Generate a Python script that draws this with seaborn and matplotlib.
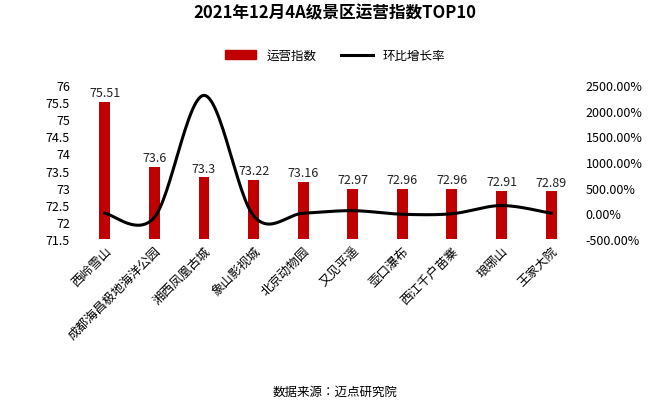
import matplotlib
matplotlib.use("Agg")
import matplotlib.pyplot as plt
from matplotlib import font_manager
import seaborn as sns
import numpy as np
import pandas as pd

names = {f.name for f in font_manager.fontManager.ttflist}
cjk = [n for n in ["Noto Sans CJK SC", "Noto Sans CJK JP", "Noto Sans CJK TC", "Noto Sans CJK KR",
                   "Noto Sans SC", "Noto Sans CJK"] if n in names]
plt.rcParams["font.family"] = "sans-serif"
plt.rcParams["font.sans-serif"] = cjk + ["DejaVu Sans"]

categories = ["西岭雪山", "成都海昌极地海洋公园", "湘西凤凰古城", "象山影视城", "北京动物园",
              "又见平遥", "壶口瀑布", "西江千户苗寨", "琅琊山", "王家大院"]
index_values = [75.51, 73.6, 73.3, 73.22, 73.16, 72.97, 72.96, 72.96, 72.91, 72.89]
growth_pct = [0, -80, 2300, -50, 0, 50, -20, -10, 150, 0]
left_ticks = [71.5, 72, 72.5, 73, 73.5, 74, 74.5, 75, 75.5, 76]
right_ticks = [-500, 0, 500, 1000, 1500, 2000, 2500]

df = pd.DataFrame({"cat": categories, "val": index_values})
fig = plt.figure(figsize=(6.7, 4.1), dpi=100)
ax = fig.add_axes([0.112, 0.415, 0.755, 0.375])
sns.barplot(data=df, x="cat", y="val", color="#C00000", width=0.22, ax=ax, saturation=1)
ax.set_ylim(71.5, 76)
ax.set_yticks(left_ticks)
ax.set_yticklabels([f"{t:g}" for t in left_ticks], fontsize=9)
ax.set_xlabel(""); ax.set_ylabel("")
ax.set_xticks(range(len(categories)))
ax.set_xticklabels(categories, rotation=45, ha="right", rotation_mode="anchor", fontsize=9)
ax.tick_params(length=0)
for s in ax.spines.values():
    s.set_visible(False)
for i, v in enumerate(index_values):
    ax.text(i, v + 0.08, f"{v:g}", ha="center", va="bottom", fontsize=9, color="#222")
ax.set_xlim(-0.6, 9.6)

ax2 = ax.twinx()
x = np.arange(len(growth_pct), dtype=float)
y = np.array(growth_pct, dtype=float)
xs, ys = [], []
px = np.concatenate([[x[0]], x, [x[-1]]]); py = np.concatenate([[y[0]], y, [y[-1]]])
for i in range(1, len(px) - 2):
    t = np.linspace(0, 1, 30)
    for arr, out in ((px, xs), (py, ys)):
        p0, p1, p2, p3 = arr[i-1], arr[i], arr[i+1], arr[i+2]
        out.extend(0.5*((2*p1) + (-p0+p2)*t + (2*p0-5*p1+4*p2-p3)*t**2 + (-p0+3*p1-3*p2+p3)*t**3))
sns.lineplot(x=xs, y=ys, ax=ax2, color="black", linewidth=2.2, sort=False, estimator=None)
ax2.set_ylim(-500, 2500)
ax2.set_yticks(right_ticks)
ax2.set_yticklabels([f"{t:.2f}%" for t in right_ticks], fontsize=9)
ax2.tick_params(length=0)
for s in ax2.spines.values():
    s.set_visible(False)

fig.text(0.5, 0.955, "2021年12月4A级景区运营指数TOP10", ha="center", fontsize=12, fontweight="bold")
from matplotlib.patches import Patch
from matplotlib.lines import Line2D
fig.legend(handles=[Patch(color="#C00000", label="运营指数"),
                    Line2D([], [], color="black", lw=2.2, label="环比增长率")],
           loc="center", bbox_to_anchor=(0.5, 0.862), ncol=2, frameon=False, fontsize=9,
           handlelength=2.5, columnspacing=2)
fig.text(0.5, 0.035, "数据来源：迈点研究院", ha="center", fontsize=9)
fig.savefig("out.png")
